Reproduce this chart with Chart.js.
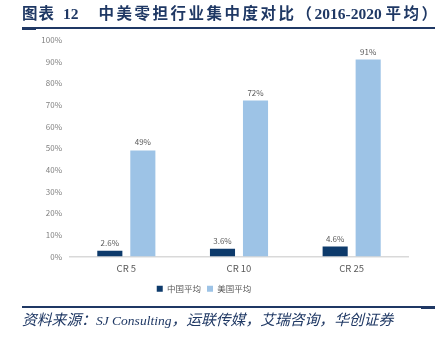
<!DOCTYPE html>
<html>
<head>
<meta charset="utf-8">
<script src="https://cdn.jsdelivr.net/npm/chart.js@4/dist/chart.umd.min.js"></script>
<style>
  html, body { margin: 0; padding: 0; background: #fff; }
  #page { position: relative; width: 445px; height: 340px; overflow: hidden; background: #fff; }
  #chart { position: absolute; left: 0; top: 0; }
  .title {
    position: absolute; left: 22px; top: 5px; white-space: nowrap;
    font-family: "Liberation Serif", "Noto Sans CJK SC", serif;
    font-weight: bold; font-size: 15.5px; color: #1f3864; line-height: 18px;
  }
  .title .lead { letter-spacing: 1px; }
  .title .num { margin-left: 8px; }
  .title .cjk { letter-spacing: 2.5px; }
  .title .main { margin-left: 20px; }
  .rule { position: absolute; left: 22px; width: 413px; height: 1.5px; background: #1f3864; }
  .rule .cap { position: absolute; top: 0; width: 14px; height: 2.5px; background: #1f3864; }
  .source {
    position: absolute; left: 22px; top: 312px; white-space: nowrap;
    font-family: "Liberation Serif", "Noto Sans CJK SC", serif;
    font-style: italic; font-size: 14.8px; color: #1f3864; line-height: 16px;
  }
  .source .lat { font-size: 13.5px; }
</style>
</head>
<body>
<div id="page">
  <canvas id="chart" width="445" height="340"></canvas>
  <div class="title"><span class="lead">图表</span><span class="num">12</span><span class="main"><span class="cjk">中美零担行业集中度对比（</span>2016-2020 <span class="cjk">平均</span>）</span></div>
  <div class="rule" style="top:27px"><div class="cap" style="left:0"></div></div>
  <div class="rule" style="top:306px"><div class="cap" style="right:0"></div></div>
  <div class="source">资料来源：<span class="lat">SJ Consulting</span>，运联传媒，艾瑞咨询，华创证券</div>
</div>
<script>
// Concentration ratios of the LTL freight industry, 2016-2020 averages (%)
const categories = ['CR 5', 'CR 10', 'CR 25'];
const chinaAvg = [2.6, 3.6, 4.6];
const usAvg = [49, 72, 91];
const seriesNames = ['中国平均', '美国平均'];
const yTicks = [0, 10, 20, 30, 40, 50, 60, 70, 80, 90, 100];

const FONT = '"Noto Sans CJK SC", "Noto Sans", sans-serif';

// Draws the percentage above each bar
const valueLabels = {
  id: 'valueLabels',
  afterDatasetsDraw(chart) {
    const ctx = chart.ctx;
    ctx.save();
    ctx.font = '8px ' + FONT;
    ctx.fillStyle = '#595959';
    ctx.textAlign = 'center';
    ctx.textBaseline = 'bottom';
    chart.data.datasets.forEach((ds, i) => {
      chart.getDatasetMeta(i).data.forEach((bar, j) => {
        ctx.fillText(ds.data[j] + '%', bar.x, bar.y - 4);
      });
    });
    ctx.restore();
  }
};

new Chart(document.getElementById('chart'), {
  type: 'bar',
  data: {
    labels: categories,
    datasets: [
      { label: seriesNames[0], data: chinaAvg, backgroundColor: '#0d3a6b', borderWidth: 0 },
      { label: seriesNames[1], data: usAvg, backgroundColor: '#9dc3e6', borderWidth: 0 }
    ]
  },
  options: {
    responsive: false,
    animation: false,
    devicePixelRatio: 1,
    layout: { padding: { left: 0, right: 37, top: 40, bottom: 37 } },
    datasets: { bar: { categoryPercentage: 0.586, barPercentage: 0.76 } },
    scales: {
      x: {
        grid: { display: false, drawTicks: false },
        border: { display: true, color: '#d9d9d9', width: 1.5 },
        ticks: { color: '#595959', font: { family: FONT, size: 9.5 }, padding: 6 },
        afterFit(s) { s.height = 22; }
      },
      y: {
        min: 0, max: 100,
        afterBuildTicks(s) { s.ticks = yTicks.map(v => ({ value: v })); },
        grid: { display: false, drawTicks: false },
        border: { display: false },
        ticks: { color: '#808080', font: { family: FONT, size: 8 }, padding: 8,
                 callback: v => v + '%' },
        afterFit(s) { s.width = 70; }
      }
    },
    plugins: {
      legend: {
        position: 'bottom',
        labels: { color: '#595959', font: { family: FONT, size: 8.5 },
                  boxWidth: 6, boxHeight: 6, padding: 6 }
      },
      tooltip: { enabled: false }
    }
  },
  plugins: [valueLabels]
});
</script>
</body>
</html>
